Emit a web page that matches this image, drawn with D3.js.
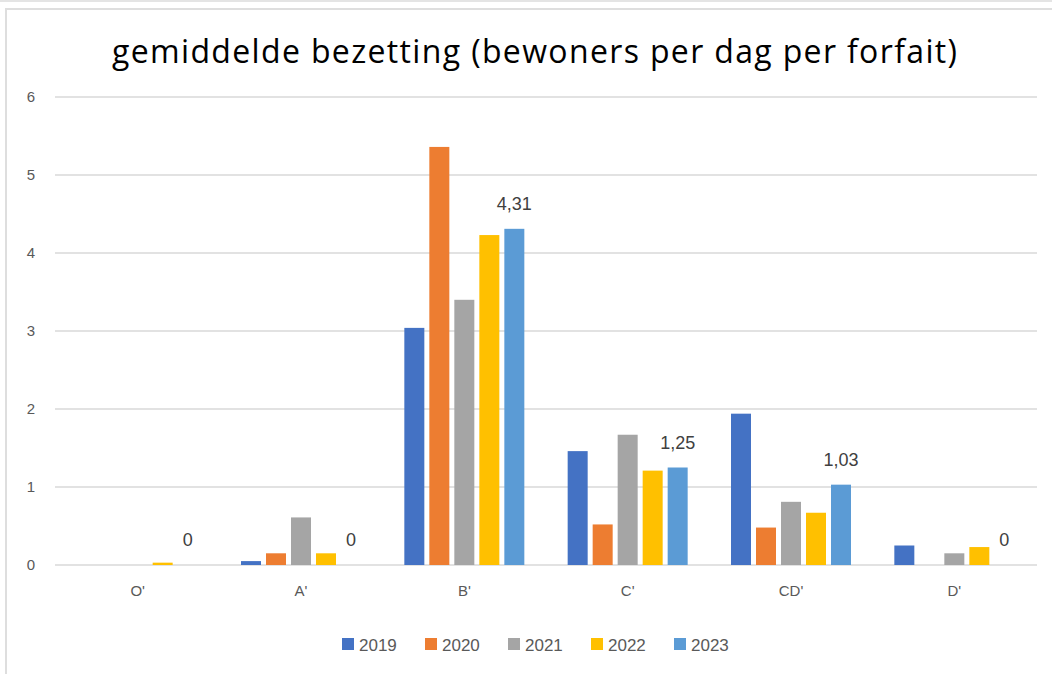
<!DOCTYPE html>
<meta charset="utf-8">
<style>
    body {
        margin: 0;
        background: #fff;
        font-family: "Liberation Sans", Arial, sans-serif;
    }

    .grid line {
        stroke: #d9d9d9;
        stroke-width: 1.3px;
    }

    .axis text {
        fill: #595959;
        font-size: 15px;
    }
</style>

<body>
    <script src="https://d3js.org/d3.v7.min.js"></script>
    <script>
        // Categories and series
        var categories = ["O'", "A'", "B'", "C'", "CD'", "D'"];
        var years = ["2019", "2020", "2021", "2022", "2023"];
        var colors = ["#4472c4", "#ed7d31", "#a5a5a5", "#ffc000", "#5b9bd5"];
        // values per year, in category order
        var v2019 = [0, 0.05, 3.04, 1.46, 1.94, 0.25];
        var v2020 = [0, 0.15, 5.36, 0.52, 0.48, 0];
        var v2021 = [0, 0.61, 3.40, 1.67, 0.81, 0.15];
        var v2022 = [0.03, 0.15, 4.23, 1.21, 0.67, 0.23];
        var v2023 = [0, 0, 4.31, 1.25, 1.03, 0];
        var yTicks = [0, 1, 2, 3, 4, 5, 6];
        var series = [v2019, v2020, v2021, v2022, v2023];

        var width = 1052,
            height = 674;

        var svg = d3.select("body").append("svg")
            .attr("width", width)
            .attr("height", height);

        // frame around the chart
        svg.append("rect")
            .attr("x", 0).attr("y", 0)
            .attr("width", width).attr("height", 2)
            .attr("fill", "#e4e4e4");
        svg.append("rect")
            .attr("x", 6).attr("y", 9)
            .attr("width", width).attr("height", height)
            .attr("fill", "#fff")
            .attr("stroke", "#dedede")
            .attr("stroke-width", 2);

        // title
        svg.append("text")
            .attr("x", 112)
            .attr("y", 63)
            .attr("textLength", 845)
            .style("font-family", "'Open Sans', sans-serif")
            .style("font-size", "32px")
            .attr("fill", "#000")
            .text("gemiddelde bezetting (bewoners per dag per forfait)");

        var x = d3.scaleBand()
            .domain(categories)
            .range([56, 1036]);

        var xs = d3.scaleBand()
            .domain(years)
            .range([x.bandwidth() / 2 - 60, x.bandwidth() / 2 + 60])
            .paddingInner(0.2);

        var y = d3.scaleLinear()
            .domain([0, 6])
            .range([565, 97]);

        // gridlines
        svg.append("g")
            .attr("class", "grid")
            .selectAll("line")
            .data(yTicks)
            .enter().append("line")
            .attr("x1", 55)
            .attr("x2", 1037)
            .attr("y1", function (d) { return y(d); })
            .attr("y2", function (d) { return y(d); });

        // y axis labels
        var yAxis = svg.append("g")
            .attr("class", "axis")
            .attr("transform", "translate(35,0)")
            .call(d3.axisLeft(y).tickValues(yTicks).tickFormat(d3.format("d")).tickSize(0).tickPadding(0));
        yAxis.select(".domain").remove();

        // x axis labels
        var xAxis = svg.append("g")
            .attr("class", "axis")
            .attr("transform", "translate(0,565)")
            .call(d3.axisBottom(x).tickSize(0).tickPadding(20));
        xAxis.select(".domain").remove();

        // bars
        var groups = svg.append("g")
            .selectAll("g")
            .data(categories)
            .enter().append("g")
            .attr("transform", function (d) { return "translate(" + x(d) + ",0)"; });

        groups.selectAll("rect")
            .data(function (d, i) {
                return years.map(function (yr, k) {
                    return { year: yr, value: series[k][i], color: colors[k] };
                });
            })
            .enter().append("rect")
            .attr("x", function (d) { return xs(d.year); })
            .attr("width", xs.bandwidth())
            .attr("y", function (d) { return y(d.value); })
            .attr("height", function (d) { return y(0) - y(d.value); })
            .attr("fill", function (d) { return d.color; });

        // data labels for 2023
        groups.append("text")
            .attr("x", xs("2023") + xs.bandwidth() / 2)
            .attr("y", function (d, i) { return y(v2023[i]) - 19; })
            .attr("text-anchor", "middle")
            .attr("fill", "#404040")
            .style("font-size", "18px")
            .text(function (d, i) { return String(v2023[i]).replace(".", ","); });

        // legend
        var legend = svg.append("g")
            .attr("transform", "translate(342,645)");
        var item = legend.selectAll("g")
            .data(years)
            .enter().append("g")
            .attr("transform", function (d, i) { return "translate(" + (i * 83) + ",0)"; });
        item.append("rect")
            .attr("x", 0).attr("y", -7)
            .attr("width", 12).attr("height", 12)
            .attr("fill", function (d, i) { return colors[i]; });
        item.append("text")
            .attr("x", 17).attr("y", 6)
            .attr("fill", "#595959")
            .style("font-size", "17px")
            .text(function (d) { return d; });
    </script>
</body>
